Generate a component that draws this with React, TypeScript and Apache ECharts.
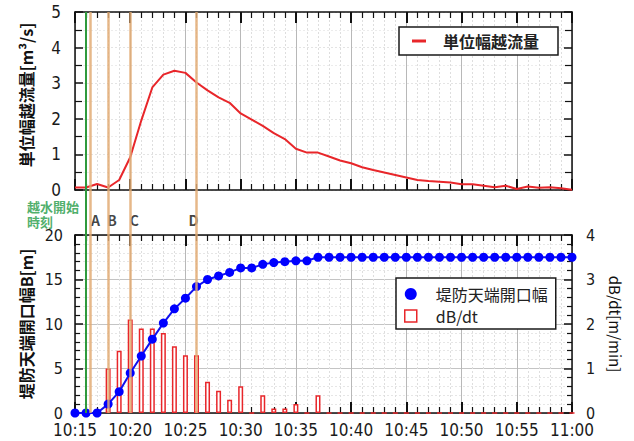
import React, { useEffect, useRef } from "react";
import * as echarts from "echarts";

// time in minutes after 10:00
const minutes = [15,16,17,18,19,20,21,22,23,24,25,26,27,28,29,30,31,32,33,34,35,36,37,38,39,40,41,42,43,44,45,46,47,48,49,50,51,52,53,54,55,56,57,58,59,60];
// 単位幅越流量 [m3/s]
const unitFlow = [0.07,0.07,0.17,0.07,0.28,0.92,1.95,2.88,3.24,3.35,3.29,3.02,2.80,2.60,2.45,2.15,1.98,1.80,1.60,1.43,1.16,1.05,1.05,0.94,0.83,0.75,0.64,0.56,0.49,0.42,0.35,0.28,0.25,0.23,0.21,0.16,0.16,0.12,0.08,0.12,0.03,0.10,0.06,0.08,0.05,0.01];
// 堤防天端開口幅 B [m]
const crestWidth = [0,0,0,1.0,2.4,4.5,6.4,8.3,10.1,11.7,12.9,14.2,15.0,15.4,15.8,16.3,16.3,16.7,16.9,17.0,17.1,17.1,17.5,17.5,17.5,17.5,17.5,17.5,17.5,17.5,17.5,17.5,17.5,17.5,17.5,17.5,17.5,17.5,17.5,17.5,17.5,17.5,17.5,17.5,17.5,17.5];
// dB/dt [m/min]
const widthRate = [0,0,0,1.0,1.4,2.1,1.9,1.9,1.8,1.5,1.3,1.3,0.7,0.5,0.3,0.6,0,0.4,0.1,0.1,0.2,0,0.4,0,0,0,0,0,0,0,0,0,0,0,0,0,0,0,0,0,0,0,0,0,0,0];

const overflowStart = 16.0;
const overflowLabel = "越水開始\n時刻";
const eventLabels = ["A", "B", "C", "D"];
const eventTimes = [16.4, 18, 20, 26];

const xTickMin = 15;
const xTickMax = 60;
const xTickInterval = 5;

const FLOW_NAME = "単位幅越流量";
const WIDTH_NAME = "堤防天端開口幅";
const RATE_NAME = "dB/dt";

const NUM_FONT = "'Liberation Sans Narrow', 'DejaVu Sans Condensed', 'Liberation Sans', sans-serif";
const CJK_FONT = "'Noto Sans CJK JP', 'Noto Sans', sans-serif";

const fmtTime = (v: number) => {
  const h = 10 + Math.floor(v / 60);
  const m = Math.round(v % 60);
  return `${h}:${String(m).padStart(2, "0")}`;
};

export default function App() {
  const ref = useRef<HTMLDivElement>(null);

  useEffect(() => {
    if (!ref.current) return;
    const chart = echarts.init(ref.current, undefined, { renderer: "svg" });

    const GL = 75, GW = 497;
    const grids = [
      { left: GL, width: GW, top: 12, height: 178 },
      { left: GL, width: GW, top: 235, height: 178 },
      { left: GL, width: GW, top: 12, height: 401 },
      { left: GL, width: GW, top: 190, height: 45 },
    ];

    const xAx = (gridIndex: number, position: string, showLabel: boolean, grid: boolean) => ({
      type: "value",
      gridIndex,
      position,
      min: xTickMin,
      max: xTickMax,
      interval: xTickInterval,
      axisLine: { show: true, onZero: false, lineStyle: { color: "#111", width: 1.5 } },
      axisTick: { show: true, inside: true, length: 11, lineStyle: { color: "#111", width: 2 } },
      minorTick: { show: true, splitNumber: 5, length: 6, lineStyle: { color: "#111", width: 1.2 } },
      axisLabel: {
        show: showLabel,
        formatter: fmtTime,
        fontFamily: NUM_FONT,
        fontSize: 17,
        color: "#1a1a1a",
        margin: 8,
      },
      splitLine: { show: grid, lineStyle: { color: "#b8b8b8", width: 1 } },
      minorSplitLine: { show: grid, lineStyle: { color: "#dedede", width: 1, type: [2, 2] } },
    });

    const yAx = (o: any) => ({
      type: "value",
      axisLine: { show: true, onZero: false, lineStyle: { color: "#111", width: 1.5 } },
      axisTick: { show: true, inside: true, length: 8, lineStyle: { color: "#111", width: 1.5 } },
      minorTick: { show: true, splitNumber: 5, length: 5, lineStyle: { color: "#111", width: 1.2 } },
      axisLabel: { show: false },
      splitLine: { show: false },
      minorSplitLine: { show: false },
      ...o,
    });

    const numLabel = (margin: number, size: number) => ({
      show: true,
      fontFamily: NUM_FONT,
      fontSize: size,
      color: "#1a1a1a",
      margin,
    });

    const labelDx = [5, 4, 4, -3];

    const option: any = {
      animation: false,
      textStyle: { fontFamily: CJK_FONT },
      grid: grids,
      xAxis: [
        xAx(0, "bottom", false, true),
        xAx(0, "top", false, false),
        xAx(1, "bottom", true, true),
        xAx(1, "top", false, false),
        { type: "value", gridIndex: 2, min: xTickMin, max: xTickMax, show: false },
        { type: "value", gridIndex: 3, min: xTickMin, max: xTickMax, show: false },
      ],
      yAxis: [
        yAx({
          gridIndex: 0, position: "left", min: 0, max: 5, interval: 1,
          minorTick: { show: true, splitNumber: 2, length: 7, lineStyle: { color: "#111", width: 1.2 } },
          axisLabel: numLabel(14, 17),
          splitLine: { show: true, lineStyle: { color: "#e4e4e4", width: 1, type: [2, 2] } },
          minorSplitLine: { show: true, lineStyle: { color: "#ececec", width: 1, type: [2, 2] } },
          name: "単位幅越流量[m³/s]",
          nameLocation: "middle",
          nameRotate: 90,
          nameGap: 41,
          nameTextStyle: { fontFamily: CJK_FONT, fontSize: 16, fontWeight: "bold", color: "#111", padding: [0, 0, 0, 12] },
        }),
        yAx({
          gridIndex: 0, position: "right", min: 0, max: 5, interval: 1,
          minorTick: { show: true, splitNumber: 2, length: 7, lineStyle: { color: "#111", width: 1.2 } },
        }),
        yAx({
          gridIndex: 1, position: "left", min: 0, max: 20, interval: 5,
          axisLabel: numLabel(12, 16),
          splitLine: { show: true, lineStyle: { color: "#c4c4c4", width: 1 } },
          minorSplitLine: { show: true, lineStyle: { color: "#e6e6e6", width: 1, type: [2, 2] } },
          name: "堤防天端開口幅B[m]",
          nameLocation: "middle",
          nameRotate: 90,
          nameGap: 41,
          nameTextStyle: { fontFamily: CJK_FONT, fontSize: 16, fontWeight: "bold", color: "#111" },
        }),
        yAx({
          gridIndex: 1, position: "right", min: 0, max: 4, interval: 1,
          axisLabel: numLabel(14, 16),
          name: "dB/dt[m/min]",
          nameLocation: "middle",
          nameRotate: -90,
          nameGap: 36,
          nameTextStyle: { fontFamily: CJK_FONT, fontSize: 15, color: "#111" },
        }),
        { type: "value", gridIndex: 2, min: 0, max: 1, show: false },
        { type: "value", gridIndex: 3, min: 0, max: 1, show: false },
      ],
      legend: [
        {
          data: [{ name: FLOW_NAME, icon: "rect", itemStyle: { color: "#e8262a" } }],
          left: 399,
          top: 27,
          orient: "vertical",
          backgroundColor: "#fff",
          borderColor: "#1a1a1a",
          borderWidth: 1.5,
          borderRadius: 0,
          padding: [6, 19, 6, 13],
          itemWidth: 14,
          itemHeight: 3,
          textStyle: { fontFamily: CJK_FONT, fontSize: 16, fontWeight: "bold", color: "#222", padding: [0, 0, 0, 12] },
          selectedMode: false,
        },
        {
          data: [
            { name: WIDTH_NAME, icon: "circle", itemStyle: { color: "#0000ff" } },
            { name: RATE_NAME, icon: "rect", itemStyle: { color: "#fff", borderColor: "#e8262a", borderWidth: 1.5 } },
          ],
          left: 396,
          top: 278,
          orient: "vertical",
          backgroundColor: "#fff",
          borderColor: "#1a1a1a",
          borderWidth: 1.5,
          borderRadius: 0,
          padding: [8, 8, 5, 8],
          itemGap: 6,
          itemWidth: 12,
          itemHeight: 12,
          textStyle: { fontFamily: CJK_FONT, fontSize: 16, color: "#222", padding: [0, 0, 0, 14] },
          selectedMode: false,
        },
      ],
      series: [
        {
          name: "events",
          type: "scatter",
          xAxisIndex: 4,
          yAxisIndex: 4,
          data: [],
          z: 1,
          silent: true,
          markLine: {
            silent: true,
            symbol: ["none", "none"],
            label: { show: false },
            data: [
              ...eventTimes.map((t) => ({ xAxis: t, lineStyle: { color: "#e2ac74", width: 2.5, type: "solid", opacity: 0.85 } })),
              { xAxis: overflowStart, lineStyle: { color: "#2f9a3c", width: 2, type: "solid" } },
            ],
          },
        },
        {
          name: "eventLabels",
          type: "scatter",
          xAxisIndex: 5,
          yAxisIndex: 5,
          symbolSize: 0,
          silent: true,
          label: {
            show: true,
            position: "inside",
            formatter: "{b}",
            fontFamily: CJK_FONT,
            fontSize: 14,
            fontWeight: "bold",
            color: "#111",
          },
          data: [
            ...eventTimes.map((t, i) => ({
              name: eventLabels[i],
              value: [t, 0.5],
              label: { offset: [labelDx[i], 7] },
            })),
            {
              name: overflowLabel,
              value: [overflowStart, 0.5],
              label: {
                align: "left",
                offset: [-59, 1],
                color: "#1f9a45",
                fontSize: 13,
                lineHeight: 15,
              },
            },
          ],
        },
        {
          name: FLOW_NAME,
          type: "line",
          xAxisIndex: 0,
          yAxisIndex: 0,
          data: minutes.map((m, i) => [m, unitFlow[i]]),
          showSymbol: false,
          symbol: "none",
          lineStyle: { color: "#e8262a", width: 2 },
          itemStyle: { color: "#e8262a" },
          z: 3,
        },
        {
          name: RATE_NAME,
          type: "bar",
          xAxisIndex: 2,
          yAxisIndex: 3,
          barWidth: 5,
          data: minutes.map((m, i) => [m, widthRate[i]]),
          itemStyle: { color: "#fff", borderColor: "#e8262a", borderWidth: 1.5 },
          z: 2,
        },
        {
          name: WIDTH_NAME,
          type: "line",
          xAxisIndex: 2,
          yAxisIndex: 2,
          data: minutes.map((m, i) => [m, crestWidth[i]]),
          symbol: "circle",
          symbolSize: 9,
          lineStyle: { color: "#1010ee", width: 2 },
          itemStyle: { color: "#0000ff" },
          z: 4,
        },
      ],
    };

    chart.setOption(option);
    return () => chart.dispose();
  }, []);

  return (
    <div
      ref={ref}
      style={{ position: "absolute", left: 0, top: 0, width: 634, height: 441, background: "#fff" }}
    />
  );
}
